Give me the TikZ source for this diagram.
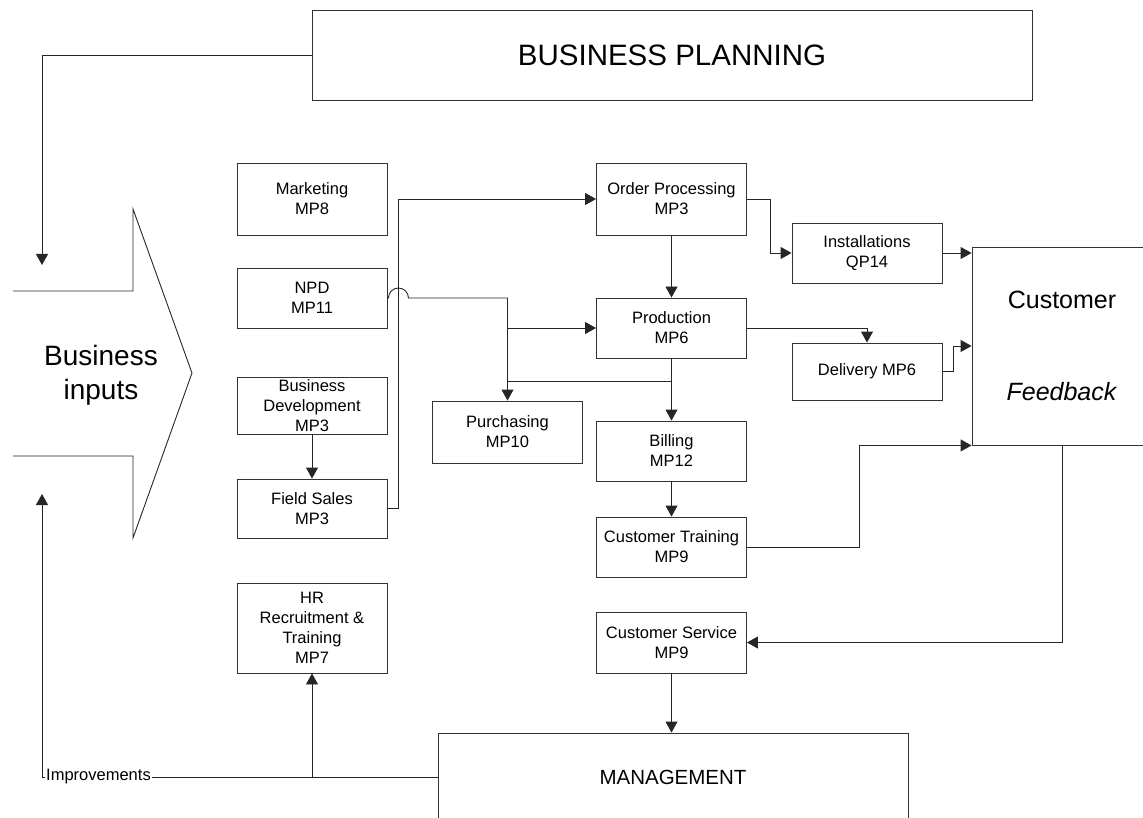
\documentclass[tikz,border=0pt]{standalone}
\usepackage{fontspec}
\setmainfont{Liberation Sans}
\usetikzlibrary{arrows.meta}
\tikzset{
  proc/.style={draw=black!80, line width=0.9pt, inner sep=0pt, minimum width=150pt, align=center, font=\fontsize{16.5}{20}\selectfont},
  big/.style={draw=black!80, line width=0.9pt, inner sep=0pt, align=center},
  arr/.style={draw=black!85, line width=0.9pt, -{Triangle[length=11pt,width=12pt]}},
  ln/.style={draw=black!85, line width=0.9pt}
}

\begin{document}
\begin{tikzpicture}[x=1pt, y=-1pt]
      \useasboundingbox (0,0) rectangle (1143,818);

      \node [big, minimum width=720pt, minimum height=90pt, font=\fontsize{29.5}{36}\selectfont] (plan) at (672,55) {BUSINESS PLANNING};
      \node [big, minimum width=180pt, minimum height=198pt, font=\fontsize{25}{30}\selectfont] (cust) at (1062,346) {Customer\\[62pt]\textit{Feedback}};
      \node [big, minimum width=470pt, minimum height=88pt, font=\fontsize{20.5}{24}\selectfont] (mgmt) at (673,777) {MANAGEMENT};

      \draw [ln] (13,291) -- (133,291) -- (133,209) -- (192,373) -- (133,538) -- (133,456) -- (13,456);
      \node [align=center, font=\fontsize{28}{34}\selectfont] (inputs) at (101,375) {Business\\inputs};

      \node [proc, minimum height=72pt] (mkt) at (312,199) {Marketing\\MP8};
      \node [proc, minimum height=60pt] (npd) at (312,298) {NPD\\MP11};
      \node [proc, minimum height=57pt] (bdev) at (312,405.5) {Business\\Development\\MP3};
      \node [proc, minimum height=59pt] (fsales) at (312,508.5) {Field Sales\\MP3};
      \node [proc, minimum height=90pt] (hr) at (312,628) {HR\\Recruitment \&\\Training\\MP7};

      \node [proc, minimum height=72pt] (order) at (671.5,199) {Order Processing\\MP3};
      \node [proc, minimum height=60pt] (prod) at (671.5,328) {Production\\MP6};
      \node [proc, minimum height=62pt] (purch) at (507.5,432) {Purchasing\\MP10};
      \node [proc, minimum height=60pt] (bill) at (671.5,451) {Billing\\MP12};
      \node [proc, minimum height=60pt] (ctrain) at (671.5,547) {Customer Training\\MP9};
      \node [proc, minimum height=61pt] (cserv) at (671.5,642.5) {Customer Service\\MP9};

      \node [proc, minimum height=60pt] (inst) at (867,253) {Installations\\QP14};
      \node [proc, minimum height=57pt] (deliv) at (867,371.5) {Delivery MP6};

      \node [inner sep=1pt, font=\fontsize{16.5}{20}\selectfont] (impr) at (98.5,777) {Improvements};

      \coordinate (inTop) at (42,265);
      \coordinate (inBot) at (42,494);
      \coordinate (tap) at (671.5,381);

      \draw [arr] (plan.west) -| (inTop);
      \draw [arr] (impr.west) -| (inBot);
      \draw [ln] (impr.east) -- (mgmt.west);
      \draw [arr] (hr.south |- mgmt.west) -- (hr.south);

      \draw [arr] (bdev.south) -- (fsales.north);
      \draw [arr] (fsales.east) -- ++(11,0) |- (order.west);
      \draw [arr] (npd.east) -- ++(1,0) arc [start angle=180, end angle=0, radius=10pt] -| (purch.north);
      \draw [arr] (purch.north |- prod.west) -- (prod.west);
      \draw [ln] (tap) -- (purch.north |- tap);

      \draw [arr] (order.south) -- (prod.north);
      \draw [arr] (prod.south) -- (bill.north);
      \draw [arr] (bill.south) -- (ctrain.north);
      \draw [arr] (cserv.south) -- (cserv.south |- mgmt.north);

      \draw [arr] (order.east) -- ++(23,0) |- (inst.west);
      \draw [arr] (inst.east) -- (inst.east -| cust.west);
      \draw [arr] (prod.east) -| (deliv.north);
      \draw [arr] (deliv.east) -- ++(11,0) |- (cust.west);
      \draw [arr] (ctrain.east) -- ++(112,0) |- (cust.south west);
      \draw [arr] (cust.south) |- (cserv.east);
\end{tikzpicture}
\end{document}
